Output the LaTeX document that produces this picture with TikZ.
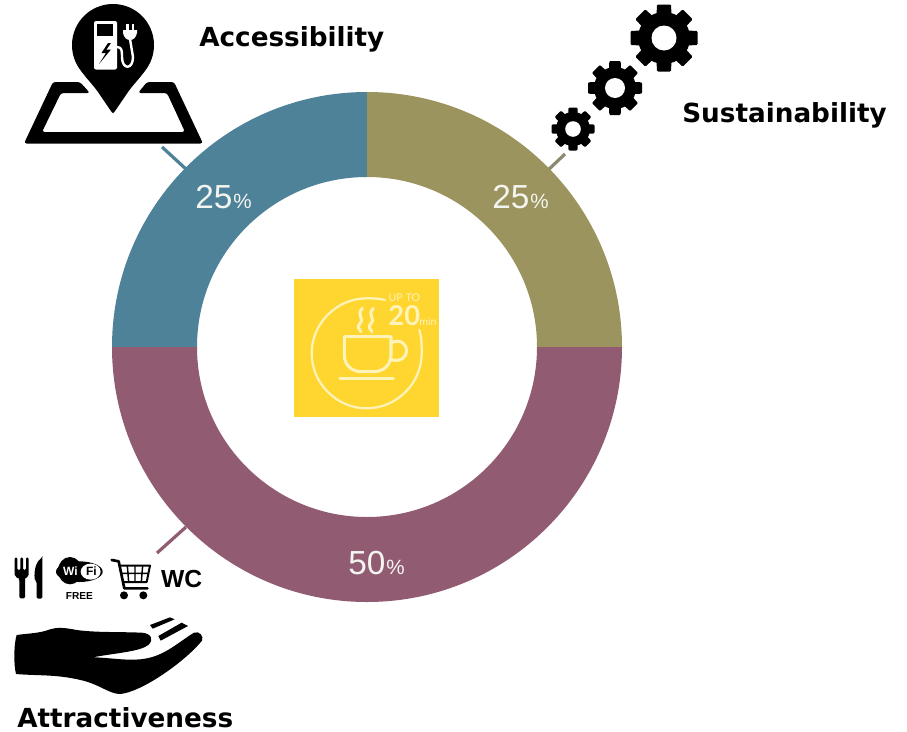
\documentclass[tikz,border=0pt]{standalone}
\usepackage{fontspec}
\setmainfont{Liberation Sans}
\newfontfamily\verd{DejaVu Sans}
\newfontfamily\lightf{Lato}
\definecolor{tealc}{HTML}{4E8299}
\definecolor{olivec}{HTML}{9C945F}
\definecolor{mauvec}{HTML}{915C72}
\definecolor{yelc}{HTML}{FFD52F}
\definecolor{creamc}{HTML}{FFF3B8}
\definecolor{pctc}{HTML}{F4F4F0}
\tikzset{
  lead/.style={line width=2.4pt},
  title/.style={font=\verd\bfseries\fontsize{19.7}{24}\selectfont,text=black,anchor=base west,inner sep=0pt},
  pct/.style={font=\fontsize{25}{28}\selectfont,text=pctc,anchor=base west,inner sep=0pt},
  pcts/.style={font=\fontsize{15.5}{18}\selectfont,text=pctc,anchor=base west,inner sep=0pt},
  cupline/.style={draw=creamc,line width=2.3pt,line cap=round,line join=round},
  icon/.style={x=0.25pt,y=-0.25pt}
}
\newcommand{\gearicon}[5]{% cx cy outer body hole
  \begin{scope}[shift={(#1,#2)}]
    \fill[black] (0,0) circle[radius=#4];
    \foreach \a in {0,45,...,315}{
      \fill[black,rotate=\a,rounded corners=0.8pt] (-#3*0.25,0) -- (-#3*0.21,-#3) -- (#3*0.21,-#3) -- (#3*0.25,0) -- cycle;
    }
    \fill[white] (0,0) circle[radius=#5];
  \end{scope}}
\begin{document}
\begin{tikzpicture}[x=0.75pt,y=-0.75pt]
\useasboundingbox (0,0) rectangle (907,732);
\fill[white] (0,0) rectangle (907,732);
% connector ends
\coordinate (tA) at (162,147); \coordinate (tB) at (187,170);
\coordinate (oA) at (565,154); \coordinate (oB) at (546,172);
\coordinate (mA) at (186,527); \coordinate (mB) at (157,553);
\draw[lead,tealc] (tA) -- (tB);
\draw[lead,olivec!45!gray] (oA) -- (oB);
\draw[lead,mauvec] (mA) -- (mB);
% ring
\fill[tealc] (367,92) arc[start angle=-90,end angle=-180,radius=255] -- (197,347) arc[start angle=-180,end angle=-90,radius=170] -- cycle;
\fill[olivec] (367,92) arc[start angle=-90,end angle=0,radius=255] -- (537,347) arc[start angle=0,end angle=-90,radius=170] -- cycle;
\fill[mauvec] (112,347) arc[start angle=180,end angle=0,radius=255] -- (537,347) arc[start angle=0,end angle=180,radius=170] -- cycle;
% percentages
\node[pct] (p1) at (195,208) {25};
\node[pcts] (p1s) at (233,208) {\%};
\node[pct] (p2) at (492,208) {25};
\node[pcts] (p2s) at (530,208) {\%};
\node[pct] (p3) at (348,574) {50};
\node[pcts] (p3s) at (386,574) {\%};
% titles
\node[title] (acc) at (199,46) {Accessibility};
\node[title] (sus) at (682,122) {Sustainability};
\node[title] (att) at (17,727) {Attractiveness};
% centre badge
\fill[yelc] (294,279) rectangle (439,417);
\begin{scope}[shift={(285,270)},x=0.25pt,y=-0.25pt]
  \draw[cupline,line width=1.7pt] (300,90) .. controls (280,85) and (265,85) .. (245,85)
    .. controls (155,85) and (80,160) .. (80,250)
    .. controls (80,340) and (155,415) .. (245,415)
    .. controls (335,415) and (410,340) .. (410,250)
    .. controls (410,225) and (410,200) .. (403,180);
  \draw[cupline] (178,200) -- (318,200) -- (318,255) .. controls (318,285) and (295,305) .. (265,305) -- (230,305) .. controls (200,305) and (178,285) .. (178,255) -- cycle;
  \draw[cupline] (318,218) .. controls (350,205) and (365,225) .. (365,243) .. controls (365,262) and (345,278) .. (315,268);
  \draw[cupline] (165,325) -- (325,325);
  \draw[cupline] (232,115) .. controls (212,135) and (240,145) .. (225,160) .. controls (215,170) and (222,178) .. (228,185);
  \draw[cupline] (265,115) .. controls (245,135) and (273,145) .. (258,160) .. controls (248,170) and (255,178) .. (261,185);
  \node[text=creamc,font=\lightf\fontsize{8}{9}\selectfont,inner sep=0pt] (upto) at (358,84) {UP TO};
  \node[text=creamc,font=\lightf\bfseries\fontsize{20.5}{22}\selectfont,inner sep=0pt,anchor=base] (twenty) at (358,166) {20};
  \node[text=creamc,font=\lightf\fontsize{8}{9}\selectfont,inner sep=0pt,anchor=base west] (minu) at (402,166) {min};
\end{scope}
% map pin icon
\fill[black,rounded corners=2pt] (24,143.5) -- (53,82) -- (80,82) -- (90,93) -- (61,93) -- (42,132) -- (185,132) -- (167,93) -- (138,93) -- (147,82) -- (174,82) -- (203,143.5) -- cycle;
\fill[black] (113,45) circle[radius=41];
\fill[black,rounded corners=1.5pt] (72.5,50) .. controls (76,70) and (90,80) .. (100,95) -- (113,114) -- (126,95) .. controls (136,80) and (150,70) .. (153.5,50) -- cycle;
\fill[white,rounded corners=1.5pt] (94,21) rectangle (117,69.5);
\fill[black] (97,24) rectangle (113,36);
\fill[black] (108,43) -- (101.5,53) -- (106,53) -- (99,64) -- (111,49.5) -- (106.5,49.5) -- (111,43) -- cycle;
\draw[white,line width=1.8pt,line join=round] (117,47) .. controls (122,47) and (122,51) .. (122,57) .. controls (122,70) and (133,70) .. (133,57) -- (130,39);
\fill[white] (123,30) -- (137,30) -- (137,33) .. controls (136,38) and (133,40) .. (130,40) .. controls (127,40) and (124,38) .. (123,33) -- cycle;
\fill[white] (126,24) rectangle (128.5,31);
\fill[white] (131.5,24) rectangle (134,31);
% gears
\gearicon{664}{38}{33.5}{26}{12.5}
\gearicon{615}{88}{27}{21}{10}
\gearicon{573}{129}{21.5}{17}{7.8}
% attractiveness icons
\begin{scope}[shift={(0,520)},icon]
  % fork
  \fill[black,rounded corners=1pt] (44,112) -- (52,112) -- (52,150) -- (61,150) -- (61,112) -- (69,112) -- (69,150) -- (78,150) -- (78,112) -- (86,112) -- (86,160) .. controls (86,172) and (76,175) .. (75,178) -- (75,235) -- (58,235) -- (58,178) .. controls (56,175) and (44,172) .. (44,160) -- cycle;
  % knife
  \fill[black,rounded corners=1pt] (127,112) -- (127,236) -- (110,236) -- (110,185) -- (104,180) .. controls (102,150) and (108,125) .. (127,112) -- cycle;
  % wifi
  \fill[black] (238,155) ellipse[x radius=70,y radius=31];
  \fill[black] (210,152) ellipse[x radius=36,y radius=41];
  \fill[white] (272,155) ellipse[x radius=30,y radius=24];
  \node[text=white,font=\bfseries\fontsize{9}{10}\selectfont,inner sep=0pt] (wi) at (211,153) {Wi};
  \node[text=black,font=\bfseries\fontsize{9}{10}\selectfont,inner sep=0pt] (fi) at (274,154) {Fi};
  \node[text=black,font=\bfseries\fontsize{7.6}{8}\selectfont,inner sep=0pt] (fr) at (238,228) {FREE};
  % cart
  \draw[black,line width=2pt,line join=round,line cap=round] (335,120) -- (356,124) -- (373,205) -- (442,205);
  \draw[black,line width=1.5pt,line join=round] (359,137) -- (450,137) -- (440,186) -- (369,186);
  \draw[black,line width=1.1pt] (362,160) -- (445,160) (382,137) -- (386,186) (405,137) -- (405,186) (428,137) -- (424,186);
  \fill[black] (372,226) circle[radius=12] (430,226) circle[radius=12];
  \node[text=black,font=\bfseries\fontsize{18.5}{20}\selectfont,inner sep=0pt] (wc) at (545,176) {WC};
  % hand
  \fill[black] (50,345) .. controls (42,370) and (40,430) .. (48,462)
     .. controls (120,468) and (170,462) .. (250,482)
     .. controls (300,495) and (330,522) .. (360,522)
     .. controls (420,518) and (550,430) .. (606,362)
     .. controls (612,348) and (598,332) .. (582,338)
     .. controls (530,370) and (490,412) .. (420,418)
     .. controls (370,422) and (320,412) .. (278,412)
     .. controls (340,400) and (420,395) .. (445,375)
     .. controls (462,360) and (455,340) .. (425,338)
     .. controls (350,335) and (290,338) .. (230,330)
     .. controls (190,322) and (170,322) .. (150,328)
     .. controls (120,340) and (85,340) .. (50,345) -- cycle;
  \fill[black] (450,315) -- (510,292) -- (524,298) -- (458,326) -- cycle;
  \fill[black] (475,348) -- (545,308) -- (564,318) -- (482,362) -- cycle;
\end{scope}
\end{tikzpicture}
\end{document}
